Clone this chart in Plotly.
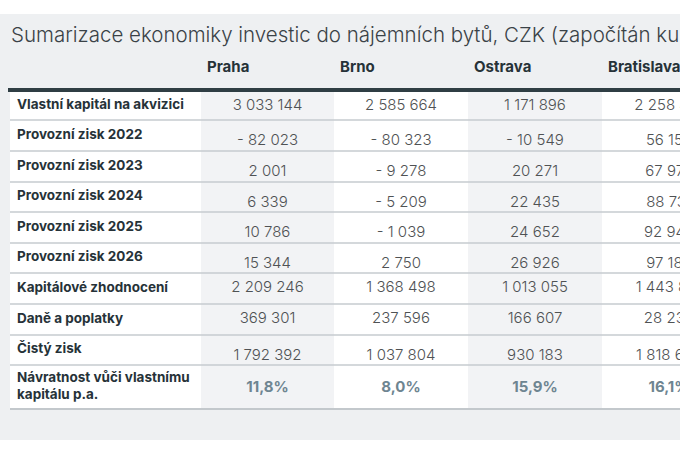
import plotly.graph_objects as go

title = "Sumarizace ekonomiky investic do nájemních bytů, CZK (započítán kurz"

cities = ["Praha", "Brno", "Ostrava", "Bratislava"]

row_labels = [
    "Vlastní kapitál na akvizici",
    "Provozní zisk 2022",
    "Provozní zisk 2023",
    "Provozní zisk 2024",
    "Provozní zisk 2025",
    "Provozní zisk 2026",
    "Kapitálové zhodnocení",
    "Daně a poplatky",
    "Čistý zisk",
    "Návratnost vůči vlastnímu<br>kapitálu p.a.",
]

praha = [3033144, -82023, 2001, 6339, 10786, 15344, 2209246, 369301, 1792392]
brno = [2585664, -80323, -9278, -5209, -1039, 2750, 1368498, 237596, 1037804]
ostrava = [1171896, -10549, 20271, 22435, 24652, 26926, 1013055, 166607, 930183]
# right part of the Bratislava column is cut off in the source, last digits estimated
bratislava = [2258410, 56152, 67974, 88731, 92946, 97183, 1443812, 28234, 1818605]

returns_pct = [11.8, 8.0, 15.9, 16.1]

# layout geometry (pixel units, figure is 680 x 453)
W, H = 680, 453
col_edges = [10, 201, 334, 468, 602, 736]
row_edges = [92, 120, 151, 182, 212, 243, 273, 304, 335, 365, 409]
value_dy = [0, 6, 6, 6, 6, 6, 0, 0, 6, 0]

FONT = "Inter"
PANEL = "#eef0f2"
STRIPE = "#f2f3f5"


def fmt(v):
    s = f"{abs(v):,}".replace(",", " ")
    return ("- " if v < 0 else "") + s


def fmt_pct(v):
    return f"{v:.1f}".replace(".", ",") + "%"


centers = [(a + b) / 2 for a, b in zip(row_edges[:-1], row_edges[1:])]
col_mid = [(a + b) / 2 for a, b in zip(col_edges[:-1], col_edges[1:])]

fig = go.Figure()

# cell backgrounds: label column white, then alternating stripes
z = [[j % 2 for j in range(len(cities) + 1)] for _ in row_labels]
fig.add_trace(go.Heatmap(
    x=col_edges, y=row_edges, z=z,
    colorscale=[[0, "#ffffff"], [1, STRIPE]], zmin=0, zmax=1,
    showscale=False, hoverinfo="skip",
))

# row labels
fig.add_trace(go.Scatter(
    x=[col_edges[0] + 7] * len(row_labels), y=centers,
    text=row_labels, mode="text", textposition="middle right",
    textfont=dict(family=FONT, size=13.5, color="#263238", weight=700),
    hoverinfo="skip", cliponaxis=True,
))

# column headers
fig.add_trace(go.Scatter(
    x=[e + 6 for e in col_edges[1:-1]], y=[68] * len(cities),
    text=cities, mode="text", textposition="middle right",
    textfont=dict(family=FONT, size=15, color="#263238", weight=700),
    hoverinfo="skip", cliponaxis=True,
))

# values
for i, vals in enumerate([praha, brno, ostrava, bratislava]):
    n = len(vals)
    fig.add_trace(go.Scatter(
        x=[col_mid[i + 1]] * n,
        y=[c + d for c, d in zip(centers[:n], value_dy[:n])],
        text=[fmt(v) for v in vals], mode="text", textposition="middle center",
        textfont=dict(family=FONT, size=15, color="#4f5254", weight=300),
        hoverinfo="skip", cliponaxis=True,
    ))

fig.add_trace(go.Scatter(
    x=col_mid[1:], y=[centers[-1] + 1] * len(returns_pct),
    text=[fmt_pct(v) for v in returns_pct], mode="text", textposition="middle center",
    textfont=dict(family=FONT, size=15, color="#6e8591", weight=700),
    hoverinfo="skip", cliponaxis=True,
))

shapes = [
    dict(type="rect", x0=0, x1=W, y0=14, y1=440, fillcolor=PANEL,
         line=dict(width=0), layer="below"),
    dict(type="line", x0=col_edges[0] - 2, x1=W, y0=90, y1=90,
         line=dict(color="#2f3e44", width=4)),
]
for y in row_edges[1:-1]:
    shapes.append(dict(type="line", x0=col_edges[0], x1=W, y0=y, y1=y,
                       line=dict(color="#c6cbcf", width=1.6)))
shapes.append(dict(type="line", x0=col_edges[0], x1=W, y0=row_edges[-1], y1=row_edges[-1],
                   line=dict(color="#c3c8cc", width=2)))

fig.update_layout(
    width=W, height=H,
    margin=dict(l=0, r=0, t=0, b=0),
    paper_bgcolor="#ffffff", plot_bgcolor="#ffffff",
    xaxis=dict(range=[0, W], visible=False, fixedrange=True),
    yaxis=dict(range=[H, 0], visible=False, fixedrange=True),
    showlegend=False,
    shapes=shapes,
    annotations=[dict(
        text=title, x=9, y=34, xref="x", yref="y",
        xanchor="left", yanchor="middle", showarrow=False,
        font=dict(family=FONT, size=20.5, color="#3a4247", weight=300),
    )],
)

# the page has a default body margin; drop it so the figure fills the window
fig.write_html(
    "out.html",
    config={"displayModeBar": False},
    post_script="document.body.style.margin='0px';",
)
